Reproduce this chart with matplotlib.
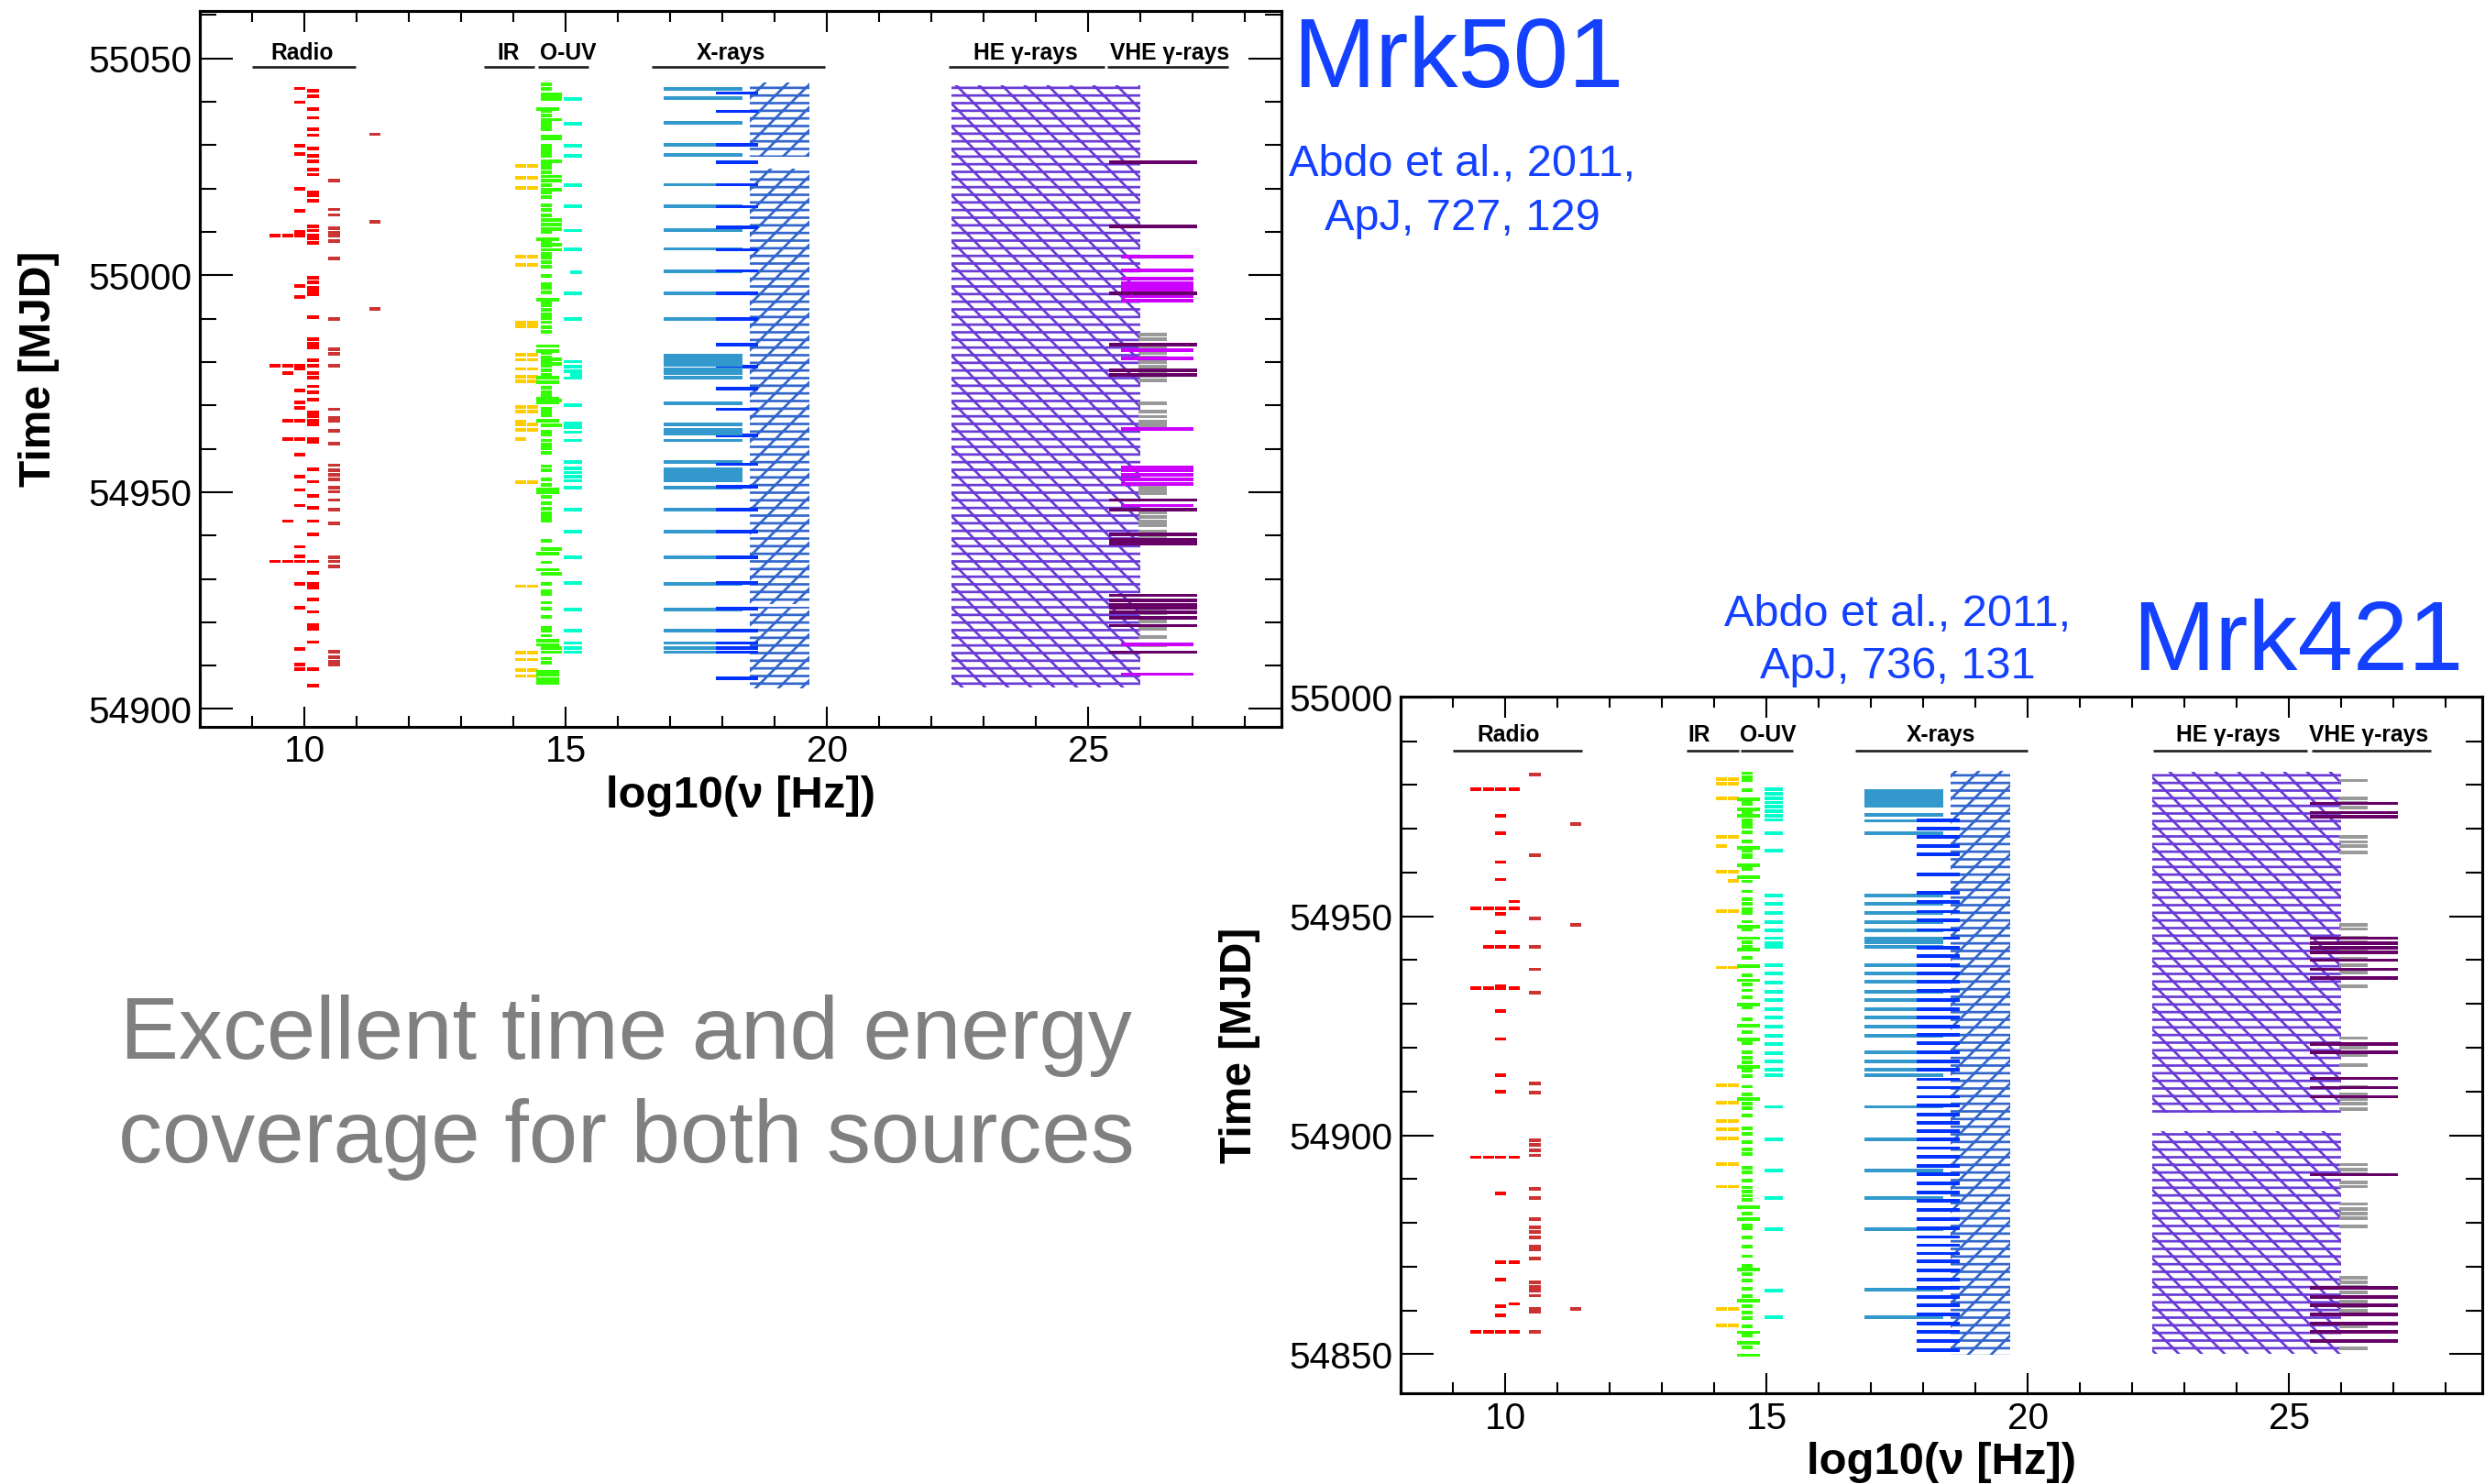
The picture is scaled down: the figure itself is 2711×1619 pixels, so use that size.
import matplotlib
matplotlib.use("Agg")
import matplotlib.pyplot as plt
from matplotlib.ticker import MultipleLocator

plt.rcParams['font.family'] = ['Liberation Sans', 'DejaVu Sans']
plt.rcParams['hatch.linewidth'] = 1.3

# ---------------------------------------------------------------- data
# frequency bands (log10 nu [Hz]) of the instruments
band_r1 = (9.33, 9.54)
band_r2 = (9.58, 9.79)
band_r3 = (9.81, 10.02)
band_r4 = (10.06, 10.28)
band_r5 = (10.46, 10.68)
band_r6 = (11.25, 11.46)
band_ir1 = (14.03, 14.24)
band_ir2 = (14.26, 14.47)
band_g1 = (14.52, 14.73)
band_g2 = (14.44, 14.88)
band_g3 = (14.52, 14.93)
band_uv1 = (14.96, 15.31)
band_uv2 = (15.09, 15.31)
band_x1 = (16.88, 18.38)
band_x2 = (17.87, 18.69)
band_xh = (18.53, 19.67)
band_he = (22.38, 26.0)
band_vdp = (25.40, 27.08)
band_vm = (25.62, 27.02)
band_vg = (25.96, 26.50)

# ---- Mrk501 (MJD of each observation)
m501_r1 = [55009.1, 54979.2, 54934.0]
m501_r2 = [55009.1, 54979.2, 54977.4, 54966.5, 54962.3, 54943.3, 54934.0]
m501_r3 = [55043.1, 55039.9, 55029.9, 55028.0, 55020.0, 55014.9, 55010.0, 55009.1,
           54997.5, 54995.0, 54979.2, 54978.4, 54973.4, 54970.7, 54969.5, 54966.5,
           54962.3, 54958.6, 54953.5, 54950.5, 54946.9, 54937.4, 54935.1, 54934.0,
           54928.9, 54923.4, 54913.9, 54910.2, 54909.2]
m501_r4 = [55042.6, 55041.3, 55038.4, 55036.3, 55033.7, 55032.3, 55029.3, 55027.5,
           55026.3, 55024.4, 55023.2, 55019.1, 55018.4, 55017.2, 55011.3, 55010.3,
           55009.1, 55008.4, 55007.4, 54999.5, 54998.4, 54997.1, 54996.2, 54995.5,
           54990.4, 54985.3, 54984.2, 54983.4, 54980.4, 54979.2, 54977.5, 54976.4,
           54974.4, 54973.0, 54971.4, 54968.4, 54967.6, 54966.5, 54965.6, 54962.3,
           54961.5, 54955.3, 54952.4, 54949.2, 54946.3, 54943.3, 54940.3, 54934.0,
           54931.4, 54928.9, 54928.0, 54925.2, 54922.4, 54919.4, 54918.4, 54915.4,
           54909.2, 54905.4]
m501_r5 = [55021.9, 55015.2, 55013.9, 55010.9, 55009.8, 55009.1, 55007.9, 55003.9,
           54989.9, 54983.0, 54981.9, 54979.2, 54969.1, 54967.1, 54966.5, 54964.2,
           54961.2, 54956.2, 54955.0, 54954.0, 54953.0, 54951.1, 54950.1, 54948.2,
           54946.0, 54942.8, 54935.0, 54934.0, 54932.9, 54913.2, 54912.0, 54910.9,
           54910.2]
m501_r6 = [55032.5, 55012.4, 54992.3]
m501_ir1 = [55025.3, 55022.4, 55020.2, 55004.3, 55002.4, 54989.1, 54988.2, 54981.6,
            54980.5, 54978.4, 54976.6, 54975.5, 54969.6, 54968.6, 54966.3, 54965.6,
            54964.4, 54962.2, 54952.3, 54928.3, 54913.0, 54911.4, 54909.0, 54907.6]
m501_ir2 = [55025.3, 55022.4, 55020.2, 55004.3, 55002.4, 54989.1, 54988.2, 54981.6,
            54980.5, 54978.4, 54976.6, 54975.5, 54969.6, 54968.6, 54965.6, 54964.4,
            54952.3, 54928.3, 54913.0, 54911.4, 54909.0, 54907.6]
m501_g1 = [55044.1, 55043.0, 55037.8, 55036.9, 55035.3, 55034.5, 55033.7, 55029.8,
           55029.0, 55028.1, 55027.5, 55025.5, 55024.7, 55023.7, 55020.8, 55019.1,
           55018.0, 55016.2, 55015.1, 55013.8, 55010.0, 55007.9, 55006.8, 55005.0,
           55004.0, 55003.1, 55002.0, 54999.9, 54998.0, 54997.1, 54996.1, 54993.8,
           54993.0, 54992.1, 54991.0, 54990.2, 54989.2, 54988.0, 54987.0, 54982.0,
           54981.1, 54980.1, 54979.1, 54978.1, 54977.1, 54974.1, 54973.0, 54972.3,
           54969.3, 54968.5, 54967.8, 54966.4, 54965.4, 54964.0, 54963.3, 54961.9,
           54961.0, 54960.1, 54959.1, 54956.0, 54955.0, 54952.9, 54951.6, 54950.7,
           54949.9, 54949.0, 54947.4, 54946.2, 54945.1, 54944.2, 54943.4, 54938.8,
           54936.8, 54935.8, 54933.8, 54932.1, 54931.2, 54928.8, 54927.1, 54926.4,
           54924.5, 54923.1, 54921.3, 54918.7, 54918.0, 54916.9, 54915.7, 54914.8,
           54914.0, 54913.1, 54911.6, 54910.7, 54908.6, 54907.9, 54906.9, 54906.0]
m501_g2 = [55038.4, 55008.3, 54994.4, 54983.7, 54982.6, 54976.4, 54975.4, 54971.6,
           54970.7, 54966.4, 54950.7, 54949.9, 54935.8, 54932.1, 54915.7, 54914.8,
           54908.6, 54907.9, 54906.9, 54906.0]
m501_g3 = [55041.8, 55041.1, 55040.7, 55035.9, 55032.0, 55031.5, 55026.2, 55022.8,
           55021.8, 55019.8, 55012.8, 55011.7, 55010.7, 55007.1, 55005.9, 54980.7,
           54979.6, 54971.1, 54965.4, 54936.8, 54931.2, 54914.0, 54913.1]
m501_uv1 = [55040.7, 55035.0, 55029.9, 55027.6, 55020.8, 55016.0, 55010.3, 55006.0,
            54995.9, 54989.9, 54980.1, 54979.0, 54977.9, 54976.3, 54970.1, 54965.9,
            54964.9, 54963.8, 54961.9, 54956.9, 54955.5, 54954.5, 54953.5, 54952.6,
            54951.1, 54946.0, 54940.9, 54935.0, 54929.0, 54922.9, 54918.1, 54915.2,
            54914.1, 54913.1]
m501_uv2 = [55000.7, 54977.1]
m501_x1 = [55042.9, 55040.8, 55035.1, 55030.0, 55027.7, 55020.9, 55016.0, 55010.5,
           55006.1, 55000.9, 54995.9, 54990.0, 54976.4, 54970.4, 54961.9, 54956.9,
           54951.1, 54946.0, 54940.9, 54935.0, 54928.8, 54922.9, 54918.1, 54915.2,
           54914.1, 54913.1]
m501_x1_long = [(54979.0, 54981.9), (54977.1, 54978.8), (54963.1, 54964.7),
                (54965.1, 54966.1), (54952.4, 54955.7)]
m501_x2 = [55042.0, 55037.8, 55030.0, 55026.0, 55020.9, 55015.8, 55011.0, 55005.9,
           55001.0, 54995.9, 54990.0, 54984.0, 54979.0, 54973.9, 54969.1, 54963.1,
           54956.4, 54951.3, 54946.0, 54940.9, 54935.0, 54929.1, 54923.2, 54918.1,
           54915.2, 54914.1, 54913.1, 54907.1]
m501_xh = [(55027.3, 55044.4), (54924.2, 55024.5), (54904.8, 54923.6)]
m501_he = [(54904.9, 55043.9)]
m501_vdp = [55026.0, 55011.2, 54995.9, 54984.0, 54978.1, 54977.0, 54948.2, 54946.0,
            54940.3, 54939.0, 54938.2, 54926.2, 54925.1, 54924.0, 54923.3, 54922.3,
            54921.1, 54919.2, 54913.1]
m501_vm = [55004.3, 55001.1, 54999.2, 54998.2, 54997.3, 54996.6, 54995.2, 54994.2,
           54982.8, 54980.9, 54964.6, 54955.8, 54955.0, 54954.0, 54952.9, 54951.9,
           54946.9, 54914.9, 54908.0]
m501_vg = [54986.4, 54985.3, 54983.2, 54982.1, 54981.1, 54980.0, 54979.0, 54977.9,
           54976.8, 54975.8, 54970.4, 54968.5, 54967.4, 54966.3, 54965.4, 54951.5,
           54950.6, 54949.7, 54945.3, 54944.3, 54943.2, 54942.3, 54941.0, 54939.5,
           54938.5, 54926.2, 54925.1, 54924.0, 54923.0, 54922.0, 54921.0, 54920.1,
           54918.5, 54916.5, 54914.7]

# ---- Mrk421
m421_r1 = [54979.0, 54951.8, 54933.6, 54895.0, 54855.2]
m421_r2 = [54979.0, 54951.8, 54943.0, 54933.6, 54895.0, 54855.2]
m421_r3 = [54979.0, 54972.9, 54968.9, 54962.4, 54958.4, 54951.8, 54950.5, 54946.3,
           54943.0, 54934.1, 54933.6, 54928.3, 54922.0, 54913.8, 54909.9, 54895.0,
           54886.8, 54871.0, 54867.1, 54861.0, 54858.9, 54855.2]
m421_r4 = [54979.0, 54953.4, 54951.8, 54943.0, 54933.6, 54895.0, 54871.0, 54861.5,
           54855.2]
m421_r5 = [54982.3, 54963.9, 54949.6, 54943.0, 54937.9, 54932.6, 54911.8, 54909.7,
           54898.9, 54897.8, 54896.6, 54895.4, 54887.7, 54885.7, 54880.8, 54878.9,
           54878.0, 54876.6, 54874.5, 54874.0, 54871.9, 54866.5, 54865.4, 54864.6,
           54863.4, 54860.4, 54859.7, 54855.2]
m421_r6 = [54971.0, 54948.0, 54860.4]
m421_ir1 = [54981.3, 54980.2, 54977.0, 54968.1, 54966.0, 54960.2, 54951.2, 54938.3,
            54911.4, 54907.4, 54903.2, 54901.3, 54899.2, 54893.5, 54888.3, 54860.4,
            54856.6]
m421_ir2 = [54981.3, 54980.2, 54977.0, 54968.1, 54960.2, 54958.1, 54951.2, 54938.3,
            54911.4, 54907.4, 54903.2, 54901.3, 54899.2, 54893.5, 54888.3, 54860.4,
            54856.6]
m421_g1 = [54982.7, 54981.7, 54981.0, 54978.9, 54976.7, 54976.1, 54975.6, 54974.4,
           54973.7, 54972.9, 54972.0, 54971.3, 54970.4, 54969.2, 54967.1, 54965.7,
           54965.0, 54964.0, 54963.5, 54961.7, 54960.8, 54958.9, 54958.0, 54955.7,
           54953.9, 54952.8, 54951.6, 54950.7, 54948.8, 54947.7, 54946.9, 54945.0,
           54944.1, 54943.1, 54942.4, 54940.5, 54938.6, 54936.5, 54935.4, 54934.5,
           54933.1, 54931.6, 54929.9, 54929.2, 54926.5, 54925.1, 54923.6, 54921.9,
           54921.0, 54918.9, 54917.7, 54916.6, 54915.6, 54914.7, 54913.5, 54911.1,
           54909.3, 54908.3, 54907.3, 54906.2, 54904.5, 54901.5, 54900.4, 54898.5,
           54896.8, 54895.7, 54892.5, 54891.6, 54889.6, 54888.1, 54887.1, 54886.2,
           54885.3, 54883.6, 54882.2, 54880.8, 54879.5, 54878.7, 54876.6, 54874.5,
           54872.4, 54870.2, 54869.3, 54868.3, 54866.9, 54864.9, 54863.2, 54862.3,
           54861.0, 54859.6, 54858.2, 54856.4, 54855.0, 54854.3, 54852.6, 54851.6,
           54849.8]
m421_g2 = [54976.7, 54974.4, 54972.9, 54965.7, 54961.7, 54958.9, 54947.7, 54945.0,
           54942.4, 54938.6, 54935.4, 54929.9, 54925.1, 54921.9, 54915.6, 54908.3,
           54883.6, 54880.8, 54869.3, 54862.3, 54855.0, 54852.6, 54849.8]
m421_uv1 = [54979.0, 54978.0, 54977.0, 54976.0, 54975.0, 54974.0, 54973.0, 54972.0,
            54969.0, 54965.0, 54954.8, 54952.8, 54950.7, 54948.6, 54946.8, 54945.0,
            54943.8, 54943.0, 54938.9, 54937.0, 54934.9, 54932.8, 54930.9, 54928.8,
            54926.9, 54924.8, 54922.8, 54920.9, 54918.8, 54916.9, 54914.9, 54913.8,
            54906.5, 54899.0, 54891.9, 54885.7, 54878.6, 54864.6, 54858.5]
m421_x1 = [54973.2, 54971.8, 54969.0, 54954.8, 54952.8, 54950.7, 54948.6, 54946.8,
           54943.0, 54938.9, 54937.0, 54935.1, 54932.8, 54930.9, 54928.8, 54926.9,
           54924.8, 54922.8, 54918.9, 54916.9, 54914.9, 54913.8, 54906.5, 54899.0,
           54891.9, 54885.7, 54878.6, 54864.8, 54858.5]
m421_x1_long = [(54974.9, 54979.1), (54943.7, 54945.3)]
m421_x2 = [54971.9, 54970.0, 54968.1, 54966.1, 54964.2, 54959.6, 54955.3, 54953.2,
           54951.1, 54949.1, 54946.9, 54945.0, 54942.9, 54941.0, 54938.9, 54937.0,
           54935.1, 54933.0, 54930.9, 54928.8, 54926.9, 54924.8, 54922.9, 54921.0,
           54918.9, 54916.8, 54914.9, 54912.8, 54910.9, 54908.8, 54906.9, 54904.8,
           54902.9, 54901.0, 54899.0, 54897.1, 54895.1, 54893.0, 54891.1, 54889.0,
           54886.9, 54885.0, 54882.9, 54880.8, 54878.8, 54876.8, 54874.9, 54873.0,
           54871.2, 54869.1, 54867.0, 54865.1, 54863.0, 54861.2, 54859.1, 54857.0,
           54855.2, 54853.1, 54851.0]
m421_xh = [(54849.8, 54983.2)]
m421_he = [(54905.2, 54982.9), (54850.2, 54901.0)]
m421_vdp = [54975.8, 54973.7, 54972.7, 54945.0, 54943.9, 54942.9, 54941.8, 54940.0,
            54937.9, 54935.9, 54920.9, 54918.9, 54913.0, 54910.9, 54908.8, 54891.0,
            54865.1, 54863.0, 54861.2, 54859.1, 54857.0, 54855.2, 54853.1]
m421_vg = [54981.0, 54977.0, 54976.0, 54974.9, 54968.1, 54967.0, 54966.0, 54964.6,
           54948.1, 54947.1, 54945.2, 54944.0, 54942.0, 54940.3, 54938.9, 54937.9,
           54937.2, 54934.0, 54922.2, 54920.8, 54920.0, 54918.4, 54916.1, 54911.1,
           54909.3, 54908.3, 54907.2, 54906.0, 54893.3, 54892.2, 54891.2, 54889.3,
           54888.3, 54884.3, 54883.2, 54882.2, 54881.1, 54879.2, 54867.4, 54866.4,
           54865.3, 54864.2, 54863.0, 54862.0, 54861.0, 54860.0, 54859.0, 54856.4,
           54851.4]

band_names = ["Radio", "IR", "O-UV", "X-rays", "HE γ-rays", "VHE γ-rays"]
m501_band_lines = [(9.0, 10.98), (13.44, 14.40), (14.47, 15.44), (16.65, 19.97),
                   (22.33, 25.32), (25.37, 27.68)]
m501_band_text = [9.95, 13.90, 15.05, 18.17, 23.81, 26.56]
m421_band_lines = [(9.0, 11.47), (13.47, 14.47), (14.50, 15.50), (16.70, 20.00),
                   (22.39, 25.35), (25.44, 27.72)]
m421_band_text = [10.06, 13.70, 15.03, 18.33, 23.83, 26.52]

# ---------------------------------------------------------------- styles
C_RED = '#ff0000'
C_BRN = '#cc3333'
C_YEL = '#ffcc00'
C_GRN = '#33ff00'
C_CYA = '#00ffcc'
C_LB = '#3399cc'
C_BL = '#0033ff'
C_XH = '#3366cc'
C_HE = '#6a3bd6'
C_DP = '#660066'
C_MG = '#cc00ff'
C_GR = '#999999'
C_TXT = '#1440ff'
H = 0.8

W, HH, DPI = 2711, 1619, 150
fig = plt.figure(figsize=(W / DPI + 0.002, HH / DPI + 0.002), dpi=DPI)


def marks(ax, days, band, color):
    if days:
        ax.barh(days, band[1] - band[0], left=band[0], height=H, color=color,
                linewidth=0, zorder=3)


def longmarks(ax, spans, band, color):
    for a, b in spans:
        ax.barh((a + b) / 2, band[1] - band[0], left=band[0], height=b - a,
                color=color, linewidth=0, zorder=3)


def hatched(ax, spans, band, color, hatch):
    for a, b in spans:
        ax.barh((a + b) / 2, band[1] - band[0], left=band[0], height=b - a,
                facecolor='none', edgecolor=color, linewidth=0, hatch=hatch, zorder=2)


def style_axes(ax, ylim, ymajor):
    ax.set_xlim(8.0, 28.7)
    ax.set_ylim(*ylim)
    ax.xaxis.set_major_locator(MultipleLocator(5))
    ax.xaxis.set_minor_locator(MultipleLocator(1))
    ax.yaxis.set_major_locator(MultipleLocator(ymajor))
    ax.yaxis.set_minor_locator(MultipleLocator(10))
    ax.tick_params(which='both', direction='in', top=True, right=True, width=1.0,
                   labelsize=19.5)
    ax.tick_params(axis='y', which='major', length=17.5, pad=4)
    ax.tick_params(axis='y', which='minor', length=8.8)
    ax.tick_params(axis='x', which='major', length=10.8, pad=4)
    ax.tick_params(axis='x', which='minor', length=5.6)
    for s in ax.spines.values():
        s.set_linewidth(1.5)
    ax.set_xlabel('log10(ν [Hz])', fontsize=23.5, fontweight='bold', labelpad=3)
    ax.set_ylabel('Time [MJD]', fontsize=23, fontweight='bold', labelpad=15)
    ax.ticklabel_format(axis='y', useOffset=False, style='plain')


def band_labels(ax, lines, texts, y_line, y_text):
    for name, (a, b), xc in zip(band_names, lines, texts):
        ax.plot([a, b], [y_line, y_line], color='#222222', lw=1.3, zorder=4,
                solid_capstyle='butt')
        ax.text(xc, y_text, name, ha='center', va='baseline', fontsize=11.8,
                fontweight='bold', zorder=4)


def draw_source(ax, d):
    hatched(ax, d['xh'], band_xh, C_XH, '//---')
    hatched(ax, d['he'], band_he, C_HE, '\\\\---')
    for key, band, color in [('r1', band_r1, C_RED), ('r2', band_r2, C_RED),
                             ('r3', band_r3, C_RED), ('r4', band_r4, C_RED),
                             ('r5', band_r5, C_BRN), ('r6', band_r6, C_BRN),
                             ('ir1', band_ir1, C_YEL), ('ir2', band_ir2, C_YEL),
                             ('g1', band_g1, C_GRN), ('g2', band_g2, C_GRN),
                             ('g3', band_g3, C_GRN), ('uv1', band_uv1, C_CYA),
                             ('uv2', band_uv2, C_CYA), ('x1', band_x1, C_LB),
                             ('x2', band_x2, C_BL), ('vg', band_vg, C_GR),
                             ('vm', band_vm, C_MG), ('vdp', band_vdp, C_DP)]:
        marks(ax, d.get(key, []), band, color)
    longmarks(ax, d.get('x1_long', []), band_x1, C_LB)


# ---------------------------------------------------------------- Mrk501
ax1 = fig.add_axes([218 / W, (HH - 793) / HH, 1180 / W, 781 / HH])
draw_source(ax1, dict(r1=m501_r1, r2=m501_r2, r3=m501_r3, r4=m501_r4, r5=m501_r5,
                      r6=m501_r6, ir1=m501_ir1, ir2=m501_ir2, g1=m501_g1, g2=m501_g2,
                      g3=m501_g3, uv1=m501_uv1, uv2=m501_uv2, x1=m501_x1,
                      x1_long=m501_x1_long, x2=m501_x2, xh=m501_xh, he=m501_he,
                      vdp=m501_vdp, vm=m501_vm, vg=m501_vg))
style_axes(ax1, (54895.9, 55061.0), 50)
band_labels(ax1, m501_band_lines, m501_band_text, 55048.0, 55049.9)

# ---------------------------------------------------------------- Mrk421
ax2 = fig.add_axes([1528 / W, (HH - 1520) / HH, 1180 / W, 760 / HH])
draw_source(ax2, dict(r1=m421_r1, r2=m421_r2, r3=m421_r3, r4=m421_r4, r5=m421_r5,
                      r6=m421_r6, ir1=m421_ir1, ir2=m421_ir2, g1=m421_g1, g2=m421_g2,
                      uv1=m421_uv1, x1=m421_x1, x1_long=m421_x1_long, x2=m421_x2,
                      xh=m421_xh, he=m421_he, vdp=m421_vdp, vg=m421_vg))
style_axes(ax2, (54841.1, 55000.2), 50)
band_labels(ax2, m421_band_lines, m421_band_text, 54987.8, 54990.0)

# ---------------------------------------------------------------- annotations
def ftext(x, y, s, **kw):
    fig.text(x / W, 1 - y / HH, s, **kw)

ftext(1410, 95, 'Mrk501', color=C_TXT, fontsize=52, ha='left', va='baseline')
ftext(1595, 192, 'Abdo et al., 2011,', color=C_TXT, fontsize=23.4, ha='center', va='baseline')
ftext(1595, 251, 'ApJ, 727, 129', color=C_TXT, fontsize=23.4, ha='center', va='baseline')
ftext(2326, 731, 'Mrk421', color=C_TXT, fontsize=52, ha='left', va='baseline')
ftext(2070, 683, 'Abdo et al., 2011,', color=C_TXT, fontsize=23.4, ha='center', va='baseline')
ftext(2070, 740, 'ApJ, 736, 131', color=C_TXT, fontsize=23.4, ha='center', va='baseline')
ftext(683, 1155, 'Excellent time and energy', color='#808080', fontsize=46,
      ha='center', va='baseline')
ftext(683, 1268, 'coverage for both sources', color='#808080', fontsize=46,
      ha='center', va='baseline')

fig.savefig('out.png', dpi=DPI)
